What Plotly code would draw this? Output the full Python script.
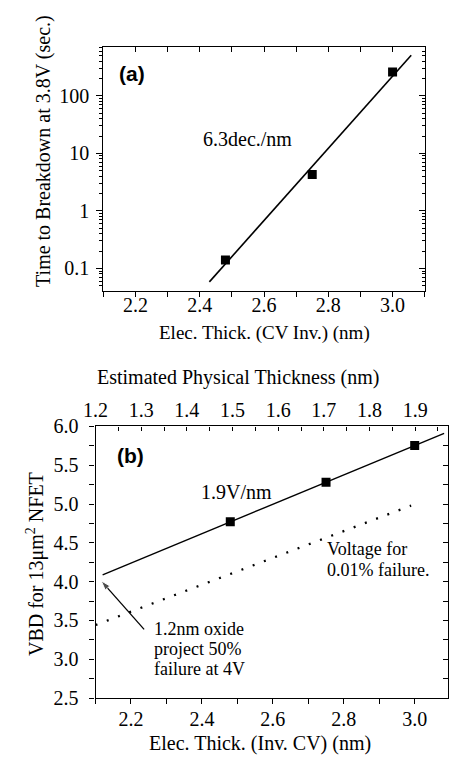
import numpy as np
import plotly.graph_objects as go

# ---------------- data ----------------
# Panel (a): time to breakdown at 3.8 V vs electrical thickness
thick_a = [2.48, 2.75, 3.0]          # nm
tbd_a = [0.14, 4.3, 260]             # sec
fit_a_span = [2.43, 3.058]           # nm, extent of drawn fit line

# Panel (b): VBD for 13 um^2 NFET vs electrical thickness
thick_b = [2.48, 2.75, 3.0]          # nm
vbd_b = [4.77, 5.28, 5.755]          # V
fit_b_span = [2.12, 3.083]           # nm, extent of drawn fit line
fail_thick = [2.1, 2.99]             # nm, 0.01% failure line
fail_v = [3.44, 4.98]                # V
arrow_x = [2.237, 2.116]             # tail -> tip (1.2nm oxide projection)
arrow_v = [3.385, 4.01]

# axis tick values
a_x_ticks = [2.2, 2.4, 2.6, 2.8, 3.0]
a_y_ticks = [0.1, 1, 10, 100]
a_y_labels = ["0.1", "1", "10", "100"]
b_x_ticks = [2.2, 2.4, 2.6, 2.8, 3.0]
b_y_ticks = [2.5, 3.0, 3.5, 4.0, 4.5, 5.0, 5.5, 6.0]
phys_ticks = [1.2, 1.3, 1.4, 1.5, 1.6, 1.7, 1.8, 1.9]

# ---------------- fits ----------------
sa, ia = np.polyfit(thick_a, np.log10(tbd_a), 1)
fit_a_x = np.array(fit_a_span)
fit_a_y = 10 ** (sa * fit_a_x + ia)

sb, ib = np.polyfit(thick_b, vbd_b, 1)
fit_b_x = np.array(fit_b_span)
fit_b_y = sb * fit_b_x + ib

W, H = 449, 767
SERIF = "Liberation Serif, Times New Roman, serif"
SANS = "Liberation Sans, Arial, sans-serif"


def px(x):
    return x / W


def py(y):
    return 1 - y / H


fig = go.Figure()
fig.add_trace(go.Scatter(x=fit_a_x, y=fit_a_y, mode="lines",
                         line=dict(color="black", width=1.6),
                         xaxis="x", yaxis="y", showlegend=False))
fig.add_trace(go.Scatter(x=thick_a, y=tbd_a, mode="markers",
                         marker=dict(symbol="square", size=9, color="black"),
                         xaxis="x", yaxis="y", showlegend=False))
fig.add_trace(go.Scatter(x=fit_b_x, y=fit_b_y, mode="lines",
                         line=dict(color="black", width=1.4),
                         xaxis="x3", yaxis="y3", showlegend=False))
fig.add_trace(go.Scatter(x=fail_thick, y=fail_v, mode="lines",
                         line=dict(color="black", width=2.2, dash="2px,10px"),
                         xaxis="x3", yaxis="y3", showlegend=False))
fig.add_trace(go.Scatter(x=thick_b, y=vbd_b, mode="markers",
                         marker=dict(symbol="square", size=9, color="black"),
                         xaxis="x3", yaxis="y3", showlegend=False))
# arrow (line + arrowhead marker at the tip)
fig.add_trace(go.Scatter(x=arrow_x, y=arrow_v, mode="lines+markers",
                         line=dict(color="black", width=1.3),
                         marker=dict(symbol="arrow", size=[0, 10],
                                     angleref="previous", color="black"),
                         xaxis="x3", yaxis="y3", showlegend=False,
                         hoverinfo="skip"))
# empty traces so the mirrored (top / right) axes are drawn
fig.add_trace(go.Scatter(x=[None], y=[None], mode="markers",
                         xaxis="x2", yaxis="y2", showlegend=False,
                         hoverinfo="skip"))
fig.add_trace(go.Scatter(x=[None], y=[None], mode="markers",
                         xaxis="x4", yaxis="y4", showlegend=False,
                         hoverinfo="skip"))

tickfont = dict(family=SERIF, size=20, color="black")
common = dict(showgrid=False, zeroline=False, showline=True,
              linecolor="black", linewidth=1.2, tickcolor="black",
              tickwidth=1, tickfont=tickfont)

log_minor = [k * 10.0 ** e for e in range(-2, 3) for k in range(2, 10)]

fig.update_layout(
    width=W, height=H,
    margin=dict(l=0, r=0, t=0, b=0),
    paper_bgcolor="white", plot_bgcolor="white",
    xaxis=dict(domain=[px(93), px(424)], anchor="y", range=[2.1, 3.1],
               tickmode="array", tickvals=a_x_ticks, tickformat=".1f",
               ticks="outside", ticklen=5, ticklabelstandoff=-9,
               minor=dict(dtick=0.1, tick0=2.1, ticks="outside", ticklen=5,
                          tickcolor="black"), **common),
    xaxis2=dict(overlaying="x", anchor="y", side="top", range=[2.1, 3.1],
                dtick=0.1, tick0=2.1, ticks="inside", ticklen=5,
                showticklabels=False, **common),
    yaxis=dict(domain=[py(288.5), py(37)], anchor="x", type="log",
               range=[-1.397, 2.85], tickmode="array", tickvals=a_y_ticks,
               ticktext=a_y_labels, ticks="outside", ticklen=6,
               ticklabelstandoff=3,
               minor=dict(tickmode="array", tickvals=log_minor,
                          ticks="outside", ticklen=3, tickcolor="black"),
               **common),
    yaxis2=dict(overlaying="y", anchor="x", side="right", type="log",
                range=[-1.397, 2.85], tickmode="array", tickvals=a_y_ticks,
                ticks="inside", ticklen=6, showticklabels=False,
                minor=dict(tickmode="array", tickvals=log_minor,
                           ticks="inside", ticklen=3, tickcolor="black"),
                **common),
    xaxis3=dict(domain=[px(85), px(448)], anchor="y3", range=[2.1, 3.094],
                tickmode="array", tickvals=b_x_ticks, tickformat=".1f",
                ticks="outside", ticklen=5, ticklabelstandoff=-2,
                minor=dict(dtick=0.1, tick0=2.1, ticks="outside", ticklen=5,
                           tickcolor="black"), **common),
    xaxis4=dict(overlaying="x3", anchor="y3", side="top", range=[1.2, 1.972],
                tickmode="array", tickvals=phys_ticks, tickformat=".1f",
                ticks="inside", ticklen=4, ticklabelstandoff=0,
                minor=dict(dtick=0.05, tick0=1.2, ticks="inside", ticklen=4,
                           tickcolor="black"), **common),
    yaxis3=dict(domain=[py(707.3), py(427.7)], anchor="x3", range=[2.5, 6.0],
                tickmode="array", tickvals=b_y_ticks, tickformat=".1f",
                ticks="outside", ticklen=5, ticklabelstandoff=7,
                minor=dict(dtick=0.25, tick0=2.5, ticks="outside", ticklen=5,
                           tickcolor="black"), **common),
    yaxis4=dict(overlaying="y3", anchor="x3", side="right", range=[2.5, 6.0],
                dtick=0.25, tick0=2.5, ticks="inside", ticklen=5,
                showticklabels=False, **common),
)


def note(text, x, y, size=20, family=SERIF, xanchor="center", angle=0):
    fig.add_annotation(text=text, x=px(x), y=py(y), xref="paper", yref="paper",
                       showarrow=False, xanchor=xanchor, yanchor="middle",
                       textangle=angle,
                       font=dict(family=family, size=size, color="black"))


# axis titles
note("Elec. Thick. (CV Inv.) (nm)", 258.5, 331, size=19)
note("Time to Breakdown at 3.8V (sec.)", 32, 144, size=20, angle=-90)
note("Estimated Physical Thickness (nm)", 232, 377, size=20)
note("Elec. Thick. (Inv. CV) (nm)", 254, 754, size=20)
note("VBD for 13μm<sup>2</sup> NFET", 23, 569, size=20, angle=-90)

# panel labels and in-plot text
note("<b>(a)</b>", 123, 64, size=21, family=SANS)
note("6.3dec./nm", 241, 132, size=20)
note("<b>(b)</b>", 120.5, 458, size=21, family=SANS)
note("1.9V/nm", 230, 495, size=20)
note("Voltage for", 321.7, 554.3, size=18, xanchor="left")
note("0.01% failure.", 321.7, 575, size=18, xanchor="left")
note("1.2nm oxide", 143.3, 636.5, size=18, xanchor="left")
note("project 50%", 143.3, 656.7, size=18, xanchor="left")
note("failure at 4V", 143.3, 677, size=18, xanchor="left")

fig.write_html("out.html")
